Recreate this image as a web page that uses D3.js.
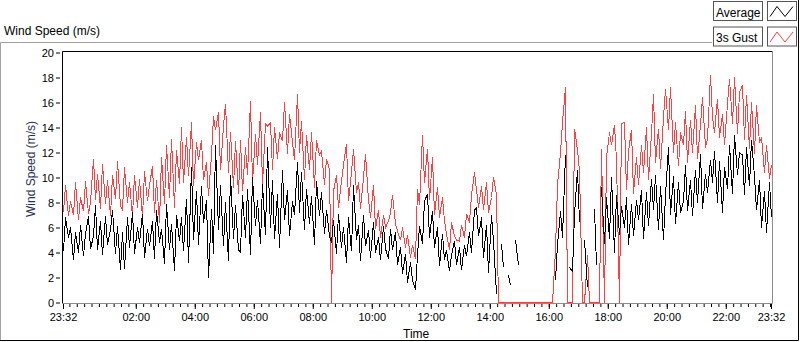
<!DOCTYPE html>
<html>
<head>
<meta charset="utf-8">
<script src="https://cdnjs.cloudflare.com/ajax/libs/d3/7.8.5/d3.min.js"></script>
<style>
  body { margin: 0; background: #fff; }
  svg { font-family: "Liberation Sans", Arial, sans-serif; }
</style>
</head>
<body>
<div id="chart"></div>
<script>
// Wind speed log, one sample every 5 minutes from 23:32 to 23:32 next day
var startTime = new Date(2000, 0, 1, 23, 32);
var stepMinutes = 5;

// Average wind speed (m/s), null = no reading
var avgSpeed = [
  4.1, 6.8, 5.2, 6.0, 3.4, 5.6, 4.0, 6.2, 3.7, 5.5, 6.9, 4.3,
  5.3, 7.8, 4.2, 6.5, 3.8, 6.9, 4.6, 5.8, 7.4, 3.9, 6.1, 2.6,
  5.6, 2.7, 6.8, 4.4, 7.2, 3.9, 6.0, 4.8, 7.1, 3.6, 5.9, 4.5,
  6.5, 3.5, 7.4, 4.8, 5.9, 3.1, 7.9, 4.2, 6.3, 2.5, 7.0, 4.9,
  6.8, 4.1, 8.3, 3.2, 10.8, 5.0, 8.9, 4.6, 9.3, 6.4, 8.2, 2.0,
  7.5, 3.9, 12.6, 5.8, 9.4, 4.5, 8.0, 3.3, 10.2, 5.1, 7.8, 4.2,
  4.0, 8.6, 5.2, 9.1, 3.8, 10.0, 6.1, 8.2, 4.7, 9.5, 5.4, 12.4,
  6.0, 9.8, 5.1, 8.7, 4.4, 10.6, 6.6, 9.0, 5.3, 8.1, 7.0, 11.2,
  7.2, 10.4, 5.8, 9.1, 6.3, 8.5, 4.6, 9.7, 6.9, 8.8, 5.5, 7.4,
  5.3, 4.8, 6.6, 3.9, 7.1, 4.4, 6.0, 3.2, 6.8, 4.1, 9.4, 5.0,
  6.2, 3.3, 7.0, 4.5, 5.8, 3.6, 6.4, 4.0, 5.2, 3.4, 6.1, 4.3,
  3.5, 5.9, 4.2, 5.6, 3.0, 4.4, 2.3, 3.9, 1.6, 3.2, 1.8, 1.0,
  3.8, 6.1, 4.7, 8.1, 8.7, 5.2, 7.3, 4.4, 6.0, 2.9, 5.5, 3.4,
  4.2, 2.5, 3.8, 4.9, 3.0, 4.4, 2.6, 4.6, 3.7, 5.6, 4.0, 7.4,
  7.6, 5.3, 6.8, 3.6, 6.2, 2.4, 7.0, 4.9, 0.7, null, 4.7, 2.8,
  null, 2.2, 1.4, null, 5.0, 3.0, null, null, null, null, null, null,
  null, null, null, null, null, null, null, null, 1.8, 4.6, 7.3, 5.2,
  11.8, null, 2.8, 2.5, 7.0, 10.6, 6.4, null, 5.0, 1.2, null, null,
  7.5, 3.0, null, 9.2, 4.7, 8.4, 5.1, 10.0, 4.0, 8.6, 5.4, 7.7,
  6.0, 8.4, 4.6, 7.9, 5.3, 8.2, 6.6, 9.0, 5.1, 8.8, 6.1, 9.9,
  7.4, 10.2, 5.8, 9.3, 5.0, 8.6, 12.4, 7.0, 10.1, 6.3, 9.6, 7.2,
  8.1, 11.0, 7.3, 9.8, 6.9, 10.6, 8.0, 11.9, 7.5, 10.3, 8.8, 11.4,
  9.6, 12.1, 8.0, 11.3, 7.2, 10.8, 9.1, 12.6, 8.7, 13.4, 10.2, 12.0,
  11.8, 8.6, 12.4, 9.3, 13.0, 10.1, 7.4, 9.8, 6.0, 8.9, 5.6, 9.6, 6.8
];

// 3 second gust (m/s)
var gustSpeed = [
  7.2, 9.4, 6.9, 8.1, 7.0, 9.6, 6.6, 8.4, 7.3, 9.7, 7.1, 8.0,
  11.5, 8.2, 10.3, 7.5, 11.1, 7.9, 9.8, 6.9, 10.2, 8.3, 11.3, 7.7,
  7.4, 10.8, 8.0, 9.6, 6.9, 10.2, 7.6, 9.9, 6.8, 10.5, 8.1, 9.4,
  10.9, 7.2, 9.8, 6.4, 11.6, 7.9, 12.6, 8.4, 13.1, 7.6, 12.2, 9.5,
  14.0, 9.6, 13.2, 10.1, 14.4, 9.3, 12.8, 11.4, 13.0, 9.8, 11.2, 8.5,
  11.8, 14.9, 13.8, 15.2, 10.6, 14.1, 15.9, 10.4, 13.6, 9.2, 12.9, 8.7,
  13.0, 8.9, 12.4, 10.2, 16.1, 9.6, 13.5, 11.0, 15.2, 9.4, 14.3, 14.1,
  14.4, 10.6, 14.0, 11.5, 13.6, 12.9, 16.0, 11.9, 15.1, 12.8, 11.4, 16.7,
  12.0, 14.5, 9.8, 13.4, 10.6, 13.6, 9.2, 13.0, 11.8, 12.1, 9.4, 11.5,
  10.6, 0, 8.9, 10.2, 7.6, 9.7, 11.0, 12.7, 8.1, 10.4, 12.3, 8.8,
  9.6, 7.5, 10.0, 11.9, 8.2, 6.8, 9.4, 5.9, 7.4, 5.2, 7.0, 6.0,
  6.5, 7.2, 8.6, 6.3, 5.7, 5.0, 6.0, 4.4, 5.4, 3.6, 4.6, 3.5,
  9.1, 7.8, 13.4, 9.6, 12.3, 8.2, 11.6, 7.0, 9.2, 6.8, 8.4, 6.5,
  5.5, 4.2, 6.4, 5.3, 5.0, 4.9, 6.2, 5.2, 7.1, 6.4, 8.6, 10.4,
  9.0, 7.6, 9.3, 7.4, 9.6, 7.2, 8.4, 10.0, 8.6, 0, 0, 0,
  0, 0, 0, 0, 0, 0, 0, 0, 0, 0, 0, 0,
  0, 0, 0, 0, 0, 0, 0, 0, 4.2, 9.4, 12.0, 14.4,
  17.2, 0, 0, 0, 13.9, 12.2, 10.5, 0, 0, 3.8, 0, 0,
  0, 0, 0, 12.3, 0, 11.6, 13.6, 12.6, 14.2, 11.4, 0, 14.3,
  14.4, 9.0, 12.1, 13.8, 8.7, 11.6, 9.4, 12.6, 10.4, 14.0, 9.8, 13.5,
  16.7, 11.2, 13.9, 10.7, 14.8, 17.1, 13.8, 17.2, 12.0, 14.4, 10.9, 13.6,
  12.6, 15.3, 11.2, 14.6, 12.0, 15.8, 11.5, 14.2, 16.4, 12.4, 13.1, 18.2,
  14.8, 13.6, 16.3, 13.2, 15.1, 12.6, 15.9, 17.9, 14.3, 18.0, 13.5, 16.8,
  17.4, 13.0, 16.6, 12.3, 16.0, 11.9, 15.8, 12.8, 13.2, 10.4, 12.6, 9.9, 11.0
];

var yTicks = [0, 2, 4, 6, 8, 10, 12, 14, 16, 18, 20];
var xTickLabels = ["23:32", "02:00", "04:00", "06:00", "08:00", "10:00",
  "12:00", "14:00", "16:00", "18:00", "20:00", "22:00", "23:32"];
var seriesNames = ["Average", "3s Gust"];
var seriesColors = ["#000000", "#ff4040"];

var width = 800, height = 342;
var plot = { left: 63, right: 771, top: 52, bottom: 302 };

var endTime = d3.timeMinute.offset(startTime, stepMinutes * (avgSpeed.length - 1));

// Build rows: time + value
function toRows(values) {
  return values.map(function(v, i) {
    return { t: d3.timeMinute.offset(startTime, i * stepMinutes), v: v };
  });
}
var avgRows = toRows(avgSpeed);
var gustRows = toRows(gustSpeed);

var svg = d3.select("#chart").append("svg")
  .attr("width", width)
  .attr("height", height);

var x = d3.scaleTime()
  .domain([startTime, endTime])
  .range([plot.left, plot.right]);

var y = d3.scaleLinear()
  .domain([0, 20])
  .range([plot.bottom + 0.5, plot.top + 0.5]);

// Outer panel frame
svg.append("path")
  .attr("d", "M0.5,341 V42.5 H712")
  .attr("fill", "none").attr("stroke", "#a0a0a0");
svg.append("path")
  .attr("d", "M0,340.5 H798.5 V0")
  .attr("fill", "none").attr("stroke", "#000");

// Graph title
svg.append("text")
  .attr("x", 4).attr("y", 35)
  .attr("font-size", 12)
  .text("Wind Speed (m/s)");

// Plot frame
svg.append("path")
  .attr("d", "M62.5,303 V51.5 H772")
  .attr("fill", "none").attr("stroke", "#000");
svg.append("path")
  .attr("d", "M772.5,51 V303.5 H62")
  .attr("fill", "none").attr("stroke", "#8c8c8c");

// Y axis
var yAxis = svg.append("g")
  .attr("transform", "translate(60,0)")
  .call(d3.axisLeft(y).tickValues(yTicks).tickSize(4).tickPadding(2).tickSizeOuter(0));
yAxis.select(".domain").remove();
yAxis.selectAll("text").attr("font-size", 11).attr("fill", "#000").attr("font-family", null);
yAxis.selectAll("line").attr("stroke", "#000");

// X axis: minor ticks every 15 min, major ticks at the ends and even hours 02:00..22:00
var minorTicks = d3.timeMinute.every(15).range(startTime, d3.timeMinute.offset(endTime, 1));
var evenHours = d3.timeHour.every(2).range(d3.timeMinute.offset(startTime, 1), endTime)
  .filter(function(d) { return d.getHours() !== 0; });
var majorTicks = [startTime].concat(evenHours).concat([endTime]);

var xMinor = svg.append("g")
  .attr("transform", "translate(0,304)")
  .call(d3.axisBottom(x).tickValues(minorTicks).tickSize(3).tickFormat("").tickSizeOuter(0));
xMinor.select(".domain").remove();
xMinor.selectAll("line").attr("stroke", "#000");

var xMajor = svg.append("g")
  .attr("transform", "translate(0,304)")
  .call(d3.axisBottom(x).tickValues(majorTicks).tickSize(5).tickPadding(4).tickSizeOuter(0)
    .tickFormat(function(d, i) { return xTickLabels[i]; }));
xMajor.select(".domain").remove();
xMajor.selectAll("line").attr("stroke", "#000");
xMajor.selectAll("text").attr("font-size", 11).attr("fill", "#000").attr("font-family", null);

// Axis titles
svg.append("text")
  .attr("transform", "translate(35,169) rotate(-90)")
  .attr("text-anchor", "middle")
  .attr("font-size", 12)
  .attr("fill", "#1f2f5f")
  .text("Wind Speed (m/s)");

svg.append("text")
  .attr("x", 403).attr("y", 338)
  .attr("font-size", 12)
  .text("Time");

// Data lines: gust first, average on top (aliased like the original)
var line = d3.line()
  .defined(function(d) { return d.v != null; })
  .x(function(d) { return Math.round(x(d.t)) + 0.5; })
  .y(function(d) { return y(d.v); });

svg.append("path")
  .datum(gustRows)
  .attr("fill", "none")
  .attr("stroke", seriesColors[1])
  .attr("stroke-width", 1)
  .attr("shape-rendering", "crispEdges")
  .attr("d", line);

svg.append("path")
  .datum(avgRows)
  .attr("fill", "none")
  .attr("stroke", seriesColors[0])
  .attr("stroke-width", 1)
  .attr("shape-rendering", "crispEdges")
  .attr("d", line);

// Legend
var legend = svg.append("g");
seriesNames.forEach(function(name, i) {
  var top = 1.5 + i * 25.5;
  legend.append("rect")
    .attr("x", 713.5).attr("y", top).attr("width", 49).attr("height", 19)
    .attr("fill", "#fff").attr("stroke", "#555");
  legend.append("text")
    .attr("x", 716).attr("y", top + 15)
    .attr("font-size", 12)
    .text(name);
  legend.append("rect")
    .attr("x", 767.5).attr("y", top).attr("width", 29).attr("height", 19)
    .attr("fill", "#fff").attr("stroke", "#555");
  legend.append("path")
    .attr("d", "M770," + (top + 15) + " L777," + (top + 5) + " L785," + (top + 15) + " L793," + (top + 5))
    .attr("fill", "none")
    .attr("stroke", seriesColors[i]);
});
</script>
</body>
</html>
